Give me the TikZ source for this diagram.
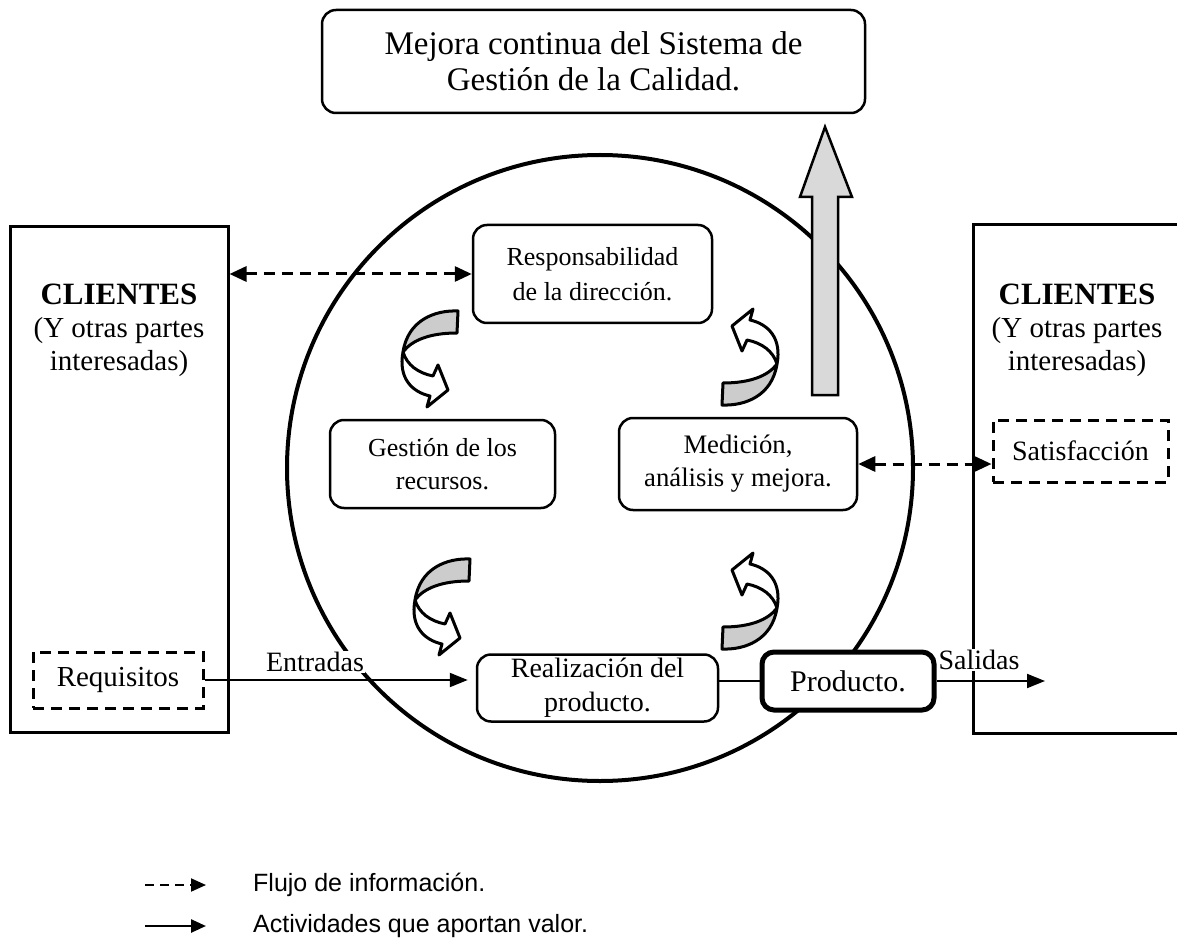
\documentclass[tikz,border=0pt]{standalone}
\usepackage{fontspec}
\setmainfont{Liberation Serif}
\newfontfamily\legendfont{Liberation Sans}
\usetikzlibrary{arrows.meta}
\definecolor{ribbon}{gray}{0.80}
\definecolor{uparrow}{gray}{0.85}

% twisted ribbon arrow (grey back face, white front face with head)
\newcommand\twistarrow{%
  \filldraw[fill=ribbon, line width=3pt, line join=round]
    (458,311) .. controls (435,310) and (408,320) .. (403,352)
    .. controls (412,340) and (430,333) .. (457,333) -- cycle;
  \filldraw[fill=white, line width=3pt, line join=round]
    (403,352) .. controls (398,378) and (412,392) .. (430,396)
    -- (427,407) -- (448,390) -- (438,365) -- (433,376)
    .. controls (418,373) and (407,365) .. (403,352) -- cycle;
}

\begin{document}
\begin{tikzpicture}[x=1pt,y=-1pt,
  rbox/.style={draw, fill=white, line width=2.5pt, rounded corners=14pt, align=center, inner sep=0pt},
  dbox/.style={draw, fill=white, line width=3pt, dash pattern=on 11pt off 7pt, inner sep=0pt},
  cbox/.style={draw, line width=3pt, inner sep=0pt},
  infoflow/.style={line width=3pt, dash pattern=on 11pt off 7pt, {Triangle[length=17pt,width=15pt]}-{Triangle[length=17pt,width=15pt]}},
  valueflow/.style={line width=2pt, -{Triangle[length=18pt,width=14pt]}},
  lbl/.style={fill=white, inner sep=1pt, font=\fontsize{28}{30}\selectfont},
  clitext/.style={align=center, inner sep=0pt, font=\fontsize{29}{33}\selectfont},
  legtext/.style={anchor=west, inner sep=0pt, font=\legendfont\fontsize{25}{28}\selectfont},
]
\useasboundingbox (0,0) rectangle (1177,949);

% big circle of the management system
\node[circle, draw, line width=4pt, minimum size=626pt, inner sep=0pt] (circ) at (600,468) {};

% improvement box and arrow
\node[rbox, minimum width=543pt, minimum height=103pt,
      font=\fontsize{33}{36}\selectfont] (mejora) at (593.5,61.5)
  {Mejora continua del Sistema de\\Gestión de la Calidad.};
\filldraw[fill=uparrow, line width=2.5pt, line join=miter]
  (812,395) -- (812,197) -- (800,197) -- (825,127) -- (852,197)
  -- (838,197) -- (838,395) -- cycle;

% process boxes
\node[rbox, minimum width=239pt, minimum height=98pt,
      font=\fontsize{26}{35}\selectfont] (resp) at (592.5,274)
  {Responsabilidad\\de la dirección.};
\node[rbox, minimum width=225pt, minimum height=88pt,
      font=\fontsize{26}{33}\selectfont] (gest) at (442.5,464)
  {Gestión de los\\recursos.};
\node[rbox, minimum width=238pt, minimum height=92pt,
      font=\fontsize{26.7}{33}\selectfont] (med) at (738,464)
  {Medición,\\análisis y mejora.};
\node[rbox, minimum width=241pt, minimum height=67pt,
      font=\fontsize{28}{34}\selectfont] (real) at (597.5,688)
  {Realización del\\producto.};
\node[rbox, line width=5pt, rounded corners=12pt, minimum width=172pt, minimum height=58pt,
      font=\fontsize{30}{32}\selectfont] (prod) at (848,681)
  {Producto.};

% customers, left
\node[cbox, minimum width=218pt, minimum height=505pt] (lcli) at (119,479.5) {};
\node[clitext] (ltxt) at (119,330)
  {{\fontsize{31}{33}\selectfont\textbf{CLIENTES}}\\(Y otras partes\\interesadas)};
\node[dbox, minimum width=170pt, minimum height=56pt,
      font=\fontsize{29}{30}\selectfont] (req) at (118,680) {Requisitos};

% customers, right (open towards the page edge)
\draw[line width=3pt] (1185,225) -- (973,225) -- (973,733) -- (1185,733);
\node[clitext] (rtxt) at (1077,330)
  {{\fontsize{31}{33}\selectfont\textbf{CLIENTES}}\\(Y otras partes\\interesadas)};
\node[dbox, minimum width=175pt, minimum height=62pt,
      font=\fontsize{28}{30}\selectfont] (sat) at (1080.5,451) {Satisfacción};

% cycle arrows
\twistarrow
\begin{scope}[shift={(12,248)}]\twistarrow\end{scope}
\begin{scope}[rotate around={180:(590,358)}]\twistarrow\end{scope}
\begin{scope}[rotate around={180:(590,480)}]\twistarrow\end{scope}

% information flows
\draw[infoflow] (resp.west -| lcli.east) -- (resp.west);
\draw[infoflow] (med.east) -- (med.east -| sat.west);

% value-adding flows
\draw[valueflow, shorten >=8pt] (req.east) -- (req.east -| real.west);
\node[lbl] (entradas) at (315,662) {Entradas};
\draw[line width=2pt] (real.east |- prod.west) -- (prod.west);
\coordinate (out) at (1045,681);
\draw[valueflow] (prod.east) -- (out);
\node[lbl] (salidas) at (979,660) {Salidas};

% legend
\coordinate (la1) at (145,885);
\coordinate (lb1) at (206,885);
\coordinate (la2) at (145,926);
\coordinate (lb2) at (206,926);
\draw[line width=2pt, dash pattern=on 9pt off 6pt, -{Triangle[length=15pt,width=13pt]}] (la1) -- (lb1);
\draw[line width=2.5pt, -{Triangle[length=15pt,width=13pt]}] (la2) -- (lb2);
\node[legtext] (leg1) at (253,885) {Flujo de información.};
\node[legtext] (leg2) at (253,926) {Actividades que aportan valor.};
\end{tikzpicture}
\end{document}
